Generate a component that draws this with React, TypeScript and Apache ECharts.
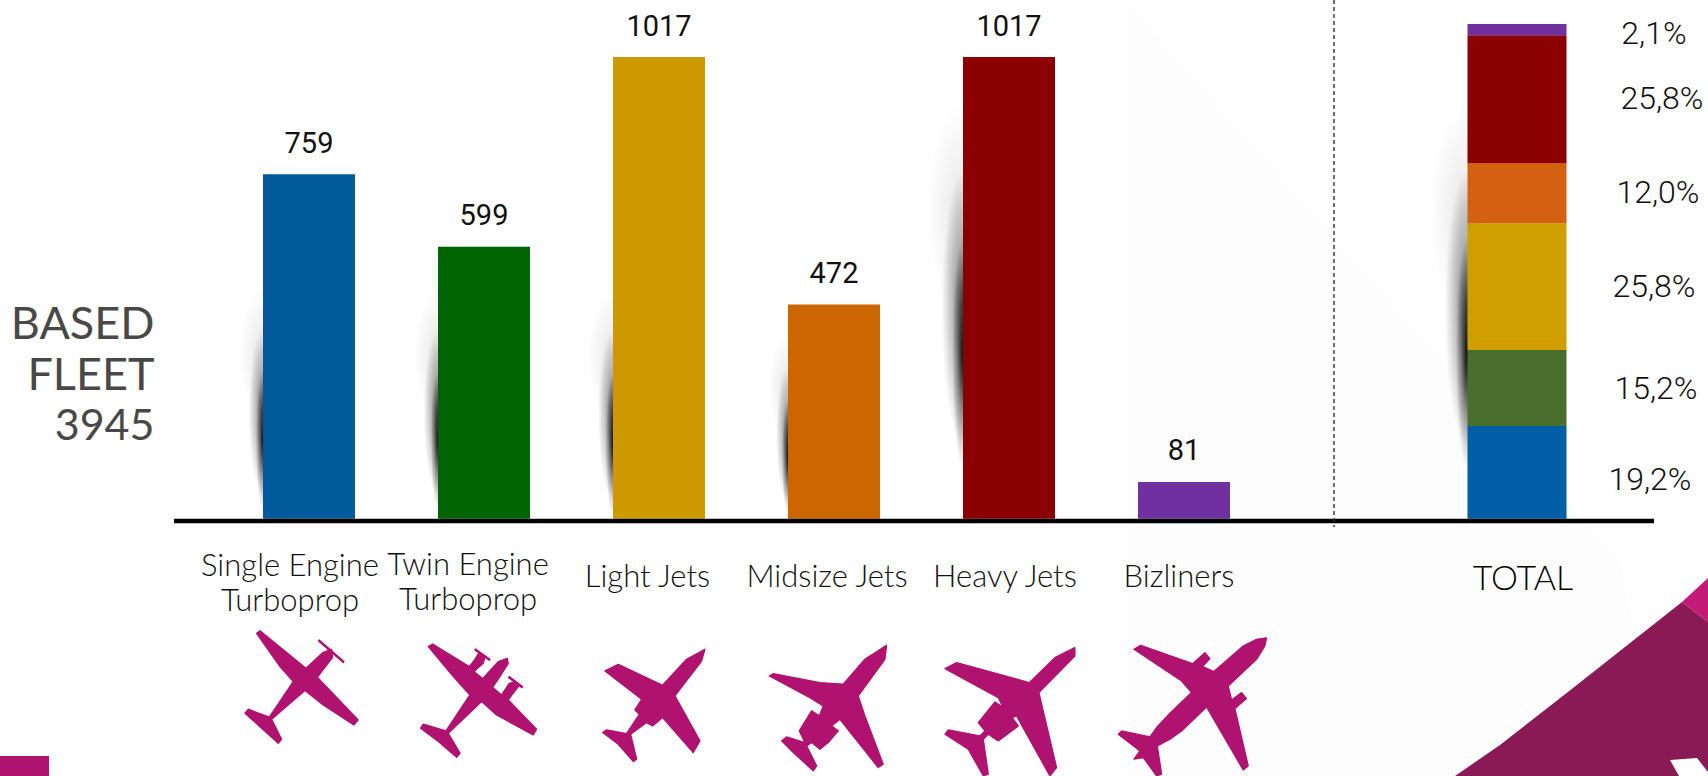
import React, { useEffect, useRef } from "react";
import * as echarts from "echarts";

const categories = ["Single Engine\nTurboprop", "Twin Engine\nTurboprop", "Light Jets", "Midsize Jets", "Heavy Jets", "Bizliners"];
const fleet = [759, 599, 1017, 472, 1017, 81];
const barColors = ["#005a9c", "#006400", "#cc9900", "#cc6600", "#8b0000", "#7030a0"];
const totalColors = ["#005fa6", "#4a6e2c", "#cf9f00", "#d46011", "#8b0000", "#7030a0"];
const segmentNames = ["Single Engine Turboprop", "Twin Engine Turboprop", "Light Jets", "Midsize Jets", "Heavy Jets", "Bizliners"];
const segmentShares = [18.8, 15.4, 25.7, 12.2, 25.9, 2.3];
const percents = ["19,2%", "15,2%", "25,8%", "12,0%", "25,8%", "2,1%"];
const percentX = [1650, 1656, 1654, 1658, 1662, 1654];
const percentY = [479, 388, 286, 192, 98, 33];
const labelShift = [19, 16, 11.5, 7, 4, 5];
const titleLines = ["BASED", "FLEET", "3945"];
const titleY = [321.7, 372.6, 423.6];
const titleSize = [45, 45, 43];

const THIN = '"Roboto", sans-serif';
const MAGENTA = "#b01270";

const planeD = [
  "M80,40L90,32L228,145L280,97L305,88L308,112L262,172L385,300L372,315L280,255L225,212L125,298L155,358L145,370L95,325L45,280L55,268L118,292L190,185L150,140ZM268,60L342,125L340,128L266,63Z",
  "M55,50L68,42L178,110L195,88L205,72L225,80L220,100L192,125L218,146L265,95L292,85L295,100L270,140L248,172L275,195L298,160L318,155L325,170L295,210L380,298L370,315L260,255L215,215L115,310L150,370L140,382L85,335L32,295L40,283L108,303L180,195L130,140ZM197,57L240,88L238,91L195,60ZM298,140L338,170L336,173L296,143Z",
  "M45,105L85,85L218,148L290,70L345,40L335,75L255,180L330,315L310,350L218,245L188,270L170,260L122,295L140,370L130,377L85,325L38,290L50,282L110,293L148,235L135,222L155,190Z",
  "M28,120L40,113L180,140L250,145L315,70L380,28L375,70L295,180L315,240L370,385L355,395L240,250L215,270L235,285L205,320L180,340L155,320L140,330L170,390L160,405L100,350L65,315L80,303L135,320L118,285L155,225L178,240L190,210L150,185Z",
  "M30,98L65,80L283,140L360,65L420,35L420,60L312,170L365,395L345,420L245,240L232,245L250,270L190,315L160,295L145,310L160,415L145,420L100,340L30,295L40,282L135,300L150,285L130,260L180,198L205,215L190,185Z",
  "M72,70L92,58L248,113L285,80L300,98L278,122L312,137L400,60L440,40L470,36L465,60L440,100L355,180L365,222L395,200L410,218L375,248L415,420L400,432L290,243L215,315L180,340L142,360L155,445L140,450L100,395L72,400L90,375L25,325L35,315L120,333L140,305L180,262L245,200L215,165Z",
];
const planeX = [230, 410, 590, 760, 935, 1110];
const planeY = [620, 630, 636, 636, 636, 626];
planeD.forEach((d, i) => {
  echarts.graphic.registerShape("plane" + i, echarts.graphic.extendPath(d, {}));
});

// bar's left edge, shadow top, shadow bottom, shadow width
const shadows = [
  [263, 293, 510, 24],
  [438, 293, 510, 24],
  [613, 293, 515, 25],
  [788, 337, 515, 20],
  [963, 110, 470, 36],
  [1467, 110, 470, 37],
];

function shadowEllipse(cx: number, cy: number, rx: number, ry: number, a: number, mid: number) {
  return {
    type: "ellipse",
    z: 1,
    silent: true,
    shape: { cx, cy, rx, ry },
    style: {
      fill: {
        type: "radial",
        x: 0.5,
        y: 0.5,
        r: 0.5,
        colorStops: [
          { offset: 0, color: `rgba(0,0,0,${a})` },
          { offset: 0.5, color: `rgba(0,0,0,${a * mid})` },
          { offset: 1, color: "rgba(0,0,0,0)" },
        ],
      },
    },
  };
}

function txt(text: string, x: number, y: number, fontSize: number, fontFamily: string, fill: string, textAlign = "center", fontWeight: any = 400) {
  return {
    type: "text",
    z: 20,
    style: { text, x, y, fontSize, fontFamily, fill, textAlign, textVerticalAlign: "middle", verticalAlign: "middle", fontWeight },
  };
}

export default function App() {
  const ref = useRef<HTMLDivElement>(null);
  useEffect(() => {
    document.body.style.margin = "0";
    document.body.style.overflow = "hidden";
    const chart = echarts.init(ref.current!, undefined, { renderer: "svg" });
    const shadowEls: any[] = [];
    shadows.forEach(([x, t, b, w]) => {
      const h = b - t;
      shadowEls.push(shadowEllipse(x, t + 0.28 * h, w, 0.3 * h, 0.1, 0.5));
      shadowEls.push(shadowEllipse(x, t + 0.55 * h, 0.6 * w, 0.38 * h, 0.6, 0.42));
      shadowEls.push(shadowEllipse(x, t + 0.68 * h, 0.3 * w, 0.32 * h, 0.9, 0.4));
    });
    const common = {
      type: "category" as const,
      axisLine: { show: false },
      axisTick: { show: false },
    };
    chart.setOption({
      animation: false,
      backgroundColor: "#ffffff",
      grid: [
        { left: 221.5, width: 1050, top: 57, height: 461.7 },
        { left: 1380, width: 274, top: 24, height: 494.7 },
      ],
      xAxis: [
        {
          ...common,
          gridIndex: 0,
          data: categories.map((value, i) => ({
            value,
            textStyle: { padding: [i < 2 ? (i === 0 ? 1 : 0) : 12, labelShift[i] * 2, 0, 0] },
          })),
          axisLabel: {
            interval: 0,
            margin: 27,
            fontFamily: "Lato",
            fontSize: 31,
            fontWeight: 300,
            lineHeight: 35,
            color: "#111111",
          },
        },
        {
          ...common,
          gridIndex: 1,
          data: ["TOTAL"],
          axisLabel: {
            interval: 0,
            margin: 40,
            fontFamily: "Lato",
            fontSize: 34,
            fontWeight: 300,
            lineHeight: 35,
            color: "#000000",
            padding: [0, 0, 0, 12],
          },
        },
      ],
      yAxis: [
        { type: "value", gridIndex: 0, min: 0, max: 1017, show: false },
        { type: "value", gridIndex: 1, min: 0, max: 100.3, show: false },
      ],
      series: [
        {
          type: "bar",
          name: "Based fleet",
          xAxisIndex: 0,
          yAxisIndex: 0,
          barWidth: 92,
          data: fleet.map((value, i) => ({ value, itemStyle: { color: barColors[i] } })),
          label: {
            show: true,
            position: "top",
            distance: 17,
            fontFamily: THIN,
            fontWeight: 400,
            fontSize: 29,
            color: "#111111",
          },
        },
        ...segmentShares.map((v, i) => ({
          type: "bar",
          name: segmentNames[i],
          xAxisIndex: 1,
          yAxisIndex: 1,
          stack: "total",
          barWidth: 99,
          itemStyle: { color: totalColors[i] },
          data: [v],
        })),
      ],
      graphic: {
        elements: [
          {
            type: "polygon",
            z: 0,
            silent: true,
            shape: { points: [[1127, 0], [1620, 560], [1660, 776], [1127, 776]] },
            style: { fill: "#fdfdfd" },
          },
          ...shadowEls,
          {
            type: "line",
            z: 15,
            shape: { x1: 174, y1: 521, x2: 1654, y2: 521 },
            style: { stroke: "#000000", lineWidth: 4.4 },
          },
          {
            type: "line",
            z: 16,
            shape: { x1: 1334, y1: 0, x2: 1334, y2: 527 },
            style: { stroke: "#333333", lineWidth: 1.4, lineDash: [4, 3] },
          },
          ...titleLines.map((t, i) => txt(t, 154.5, titleY[i], titleSize[i], "Lato", "#4a4846", "right")),
          ...percents.map((t, i) => txt(t, percentX[i], percentY[i], 32, THIN, "#111111", "center", 300)),
          ...planeD.map((_, i) => ({
            type: "plane" + i,
            z: 12,
            x: planeX[i],
            y: planeY[i],
            scaleX: 1 / 3,
            scaleY: 1 / 3,
            style: { fill: MAGENTA, stroke: MAGENTA, lineWidth: 4, lineJoin: "round" },
          })),
          { type: "rect", z: 12, shape: { x: 0, y: 756, width: 49, height: 20 }, style: { fill: MAGENTA } },
          {
            type: "polygon",
            z: 12,
            shape: { points: [[1455, 776], [1500, 745], [1573, 688], [1682, 602], [1708, 622], [1708, 776]] },
            style: { fill: "#8a1a55" },
          },
          {
            type: "polygon",
            z: 12,
            shape: { points: [[1682, 602], [1708, 578], [1708, 622]] },
            style: { fill: "#c41a78" },
          },
          {
            type: "polygon",
            z: 13,
            shape: { points: [[1670, 760], [1697, 758], [1708, 772], [1708, 776], [1679, 776]] },
            style: { fill: "#ffffff" },
          },
        ],
      },
    });
    return () => chart.dispose();
  }, []);
  return <div ref={ref} style={{ position: "fixed", left: 0, top: 0, width: 1708, height: 776 }} />;
}
